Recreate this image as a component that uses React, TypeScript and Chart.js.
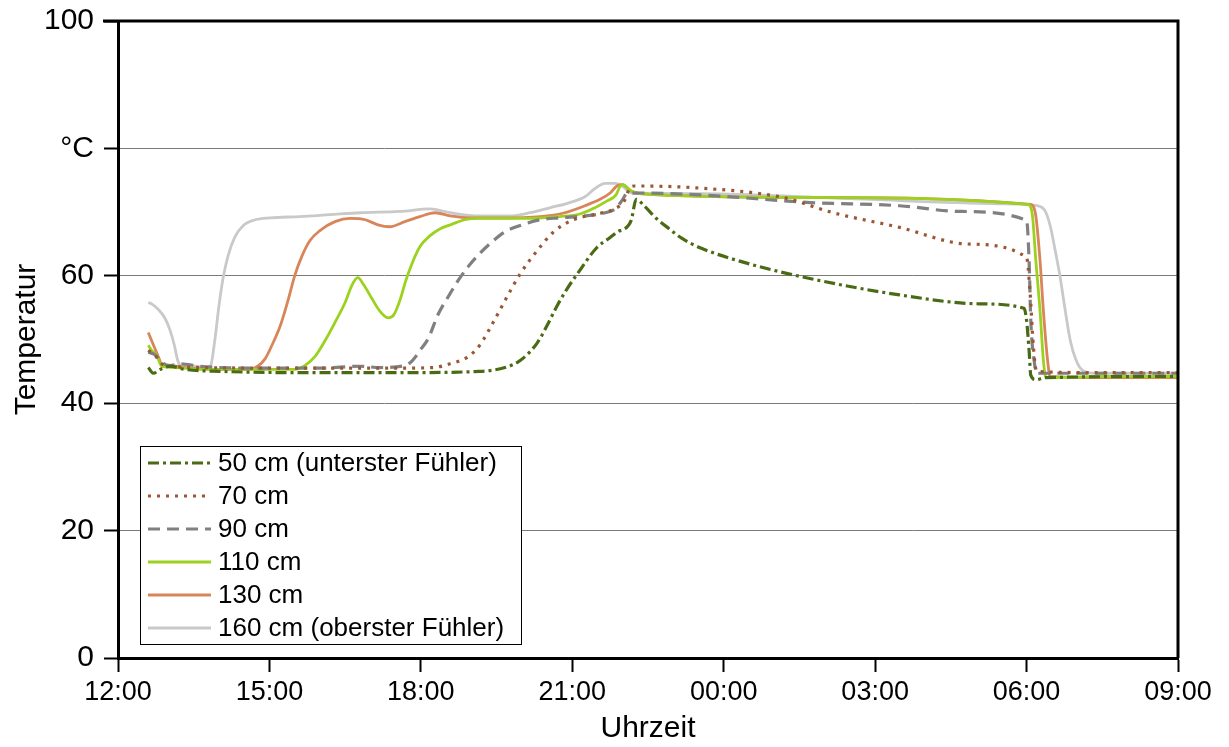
import React, { useEffect, useRef } from "react";
import { Chart, registerables } from "chart.js";

Chart.register(...registerables);

// ---------- data ----------
const xTickLabels = ["12:00", "15:00", "18:00", "21:00", "00:00", "03:00", "06:00", "09:00"];
const yTickValues = [0, 20, 40, 60, 80, 100];
const yTickLabels = ["0", "20", "40", "60", "°C", "100"];

const seriesLabels = [
  "50 cm (unterster Fühler)",
  "70 cm",
  "90 cm",
  "110 cm",
  "130 cm",
  "160 cm (oberster Fühler)",
];

const times50 = ["12:36","12:42","12:50","13:02","13:20","14:01","15:36","17:35","19:10","19:40","19:58","20:18","20:30","20:42","20:54","21:06","21:29","21:45","21:55","22:00","22:10","22:16","22:26","22:40","22:55","23:10","23:32","00:19","01:31","03:29","05:04","05:57","06:00","06:03","06:05","06:11","06:22","09:00"];
const temps50 = [45.6,44.7,45.3,45.8,45.3,45.0,44.8,44.8,45.0,45.6,46.7,49.4,52.2,55.3,58.0,60.3,64.4,66.0,67.0,67.2,68.7,72.0,70.9,69.0,67.4,65.9,64.4,62.3,59.9,57.0,55.6,54.9,53.0,48.3,44.4,43.7,44.0,44.2];

const times70 = ["12:36","12:44","12:52","13:04","13:37","15:36","17:35","18:15","18:35","18:55","19:10","19:26","19:42","19:58","20:18","20:37","21:01","21:29","21:50","22:02","22:08","22:14","23:28","01:10","02:10","03:29","04:49","06:00","06:04","06:08","06:12","07:27","09:00"];
const temps70 = [48.3,47.5,46.2,45.8,45.6,45.5,45.5,45.6,46.2,47.2,49.1,52.7,56.6,60.3,63.9,66.8,68.8,69.7,70.5,71.8,73.7,74.1,73.8,72.3,69.9,67.6,65.0,62.9,57.7,49.1,45.0,44.8,44.8];

const times90 = ["12:36","12:44","12:52","13:02","13:14","13:37","14:37","16:00","16:48","17:11","17:41","17:50","17:59","18:09","18:20","18:32","18:44","18:56","19:10","19:26","19:40","19:58","20:22","20:45","21:15","21:39","21:51","21:59","22:05","22:20","23:32","01:43","03:29","04:41","06:00","06:03","06:05","06:09","06:12","07:27","09:00"];
const temps90 = [48.0,47.6,46.4,45.9,46.2,45.8,45.5,45.5,45.8,45.6,45.9,46.7,48.3,50.2,53.8,56.6,59.2,61.4,63.5,65.5,66.9,67.9,68.8,69.1,69.4,69.9,70.5,71.8,72.9,73.0,72.7,71.5,71.0,70.1,68.7,62.4,53.0,46.7,44.7,44.7,44.7];

const times110 = ["12:36","12:40","12:46","12:52","13:08","13:37","14:37","15:30","15:42","15:54","16:06","16:18","16:30","16:38","16:45","16:52","17:02","17:11","17:21","17:28","17:35","17:42","17:50","17:59","18:11","18:23","18:35","18:52","19:10","19:58","20:45","21:09","21:27","21:42","21:52","21:57","22:00","22:09","22:20","01:31","06:02","06:07","06:11","06:16","06:20","06:23","07:27","09:00"];
const temps110 = [49.1,48.3,47.5,45.8,45.6,45.3,45.3,45.3,45.9,47.3,49.8,52.7,55.8,58.5,59.7,58.6,56.4,54.5,53.4,53.9,56.1,59.2,62.1,64.6,66.3,67.4,68.0,68.8,69.0,69.0,69.3,69.7,70.7,71.8,72.7,74.1,74.3,73.4,72.9,72.3,71.2,69.4,62.4,54.5,46.7,44.0,44.2,44.2];

const times130 = ["12:36","12:40","12:48","12:53","13:08","13:26","14:01","14:37","14:46","14:55","15:03","15:13","15:22","15:30","15:39","15:48","16:00","16:18","16:36","16:54","17:09","17:23","17:41","17:59","18:17","18:35","18:59","19:34","20:22","20:51","21:15","21:33","21:45","21:53","22:00","22:09","22:20","01:31","06:05","06:11","06:16","06:20","06:25","06:28","07:27","09:00"];
const temps130 = [51.1,49.8,47.3,45.8,45.8,45.5,45.3,45.3,45.8,47.0,49.1,52.2,56.1,60.0,63.2,65.5,67.1,68.5,69.0,68.8,68.0,67.7,68.5,69.3,69.9,69.4,69.1,69.1,69.3,69.9,71.0,72.0,73.0,74.1,74.3,73.4,72.9,72.3,71.2,69.4,62.4,54.5,46.7,44.2,44.0,44.0];

const times160 = ["12:36","12:40","12:48","12:56","13:02","13:07","13:11","13:16","13:32","13:43","13:50","13:55","14:00","14:05","14:11","14:19","14:29","14:43","15:01","15:36","16:12","16:48","17:35","18:11","18:35","19:10","19:46","20:10","20:34","20:57","21:15","21:27","21:39","21:51","21:59","22:11","23:32","02:30","05:28","06:13","06:22","06:28","06:34","06:40","06:46","06:52","06:59","07:07","07:21","08:03","09:00"];
const temps160 = [55.8,55.6,54.7,53.3,51.4,49.1,46.7,45.8,45.8,45.6,45.9,49.8,55.3,59.7,63.2,66.1,67.9,68.8,69.1,69.3,69.6,69.9,70.1,70.5,69.9,69.4,69.4,69.9,70.7,71.5,72.4,73.7,74.5,74.5,74.1,73.0,72.9,72.1,71.3,71.0,70.2,67.9,64.0,59.7,54.5,49.8,46.7,45.1,44.7,44.7,44.7];

// ---------- helpers ----------
const toHours = (s: string) => {
  const [h, m] = s.split(":").map(Number);
  let v = h + m / 60 - 12;
  if (v < 0) v += 24;
  return v;
};
const pts = (t: string[], v: number[]) => t.map((s, i) => ({ x: toHours(s), y: v[i] }));

const seriesTimes = [times50, times70, times90, times110, times130, times160];
const seriesTemps = [temps50, temps70, temps90, temps110, temps130, temps160];
const seriesColors = ["#4b6a14", "#9b5734", "#808080", "#9bd21e", "#d9855a", "#c9c9c9"];
const seriesDash: number[][] = [[11, 4, 3, 4], [3, 6], [12, 7], [], [], []];
const seriesWidth = [3.2, 3.2, 3.2, 2.8, 2.8, 2.8];

const FONT = "'Liberation Sans', Arial, sans-serif";

const framePlugin = {
  id: "frame",
  afterDraw(chart: any) {
    const { ctx, chartArea: a } = chart;
    ctx.save();
    ctx.strokeStyle = "#000";
    ctx.lineWidth = 3;
    ctx.beginPath();
    ctx.moveTo(a.left - 15, a.top);
    ctx.lineTo(a.right, a.top);
    ctx.lineTo(a.right, a.bottom);
    ctx.stroke();
    ctx.restore();
  },
};

const legendPlugin = {
  id: "boxLegend",
  afterDraw(chart: any) {
    const { ctx, chartArea: a } = chart;
    const x0 = a.left + 22;
    const y0 = a.top + 425;
    const w = 381;
    const h = 198;
    ctx.save();
    ctx.fillStyle = "#fff";
    ctx.fillRect(x0, y0, w, h);
    ctx.strokeStyle = "#000";
    ctx.lineWidth = 1;
    ctx.strokeRect(x0 + 0.5, y0 + 0.5, w, h);
    chart.data.datasets.forEach((ds: any, i: number) => {
      const cy = y0 + 17 + i * 33;
      ctx.strokeStyle = ds.borderColor;
      ctx.lineWidth = ds.borderWidth;
      ctx.setLineDash(ds.borderDash || []);
      ctx.beginPath();
      ctx.moveTo(x0 + 8, cy);
      ctx.lineTo(x0 + 71, cy);
      ctx.stroke();
      ctx.setLineDash([]);
      ctx.fillStyle = "#000";
      ctx.font = `26px ${FONT}`;
      ctx.textBaseline = "middle";
      ctx.textAlign = "left";
      ctx.fillText(ds.label, x0 + 78, cy + 1);
    });
    ctx.restore();
  },
};

export default function App() {
  const ref = useRef<HTMLCanvasElement | null>(null);
  useEffect(() => {
    if (!ref.current) return;
    const datasets = seriesLabels.map((label, i) => ({
      label,
      data: pts(seriesTimes[i], seriesTemps[i]),
      borderColor: seriesColors[i],
      backgroundColor: seriesColors[i],
      borderWidth: seriesWidth[i],
      borderDash: seriesDash[i],
      borderCapStyle: "butt" as const,
      pointRadius: 0,
      fill: false,
      cubicInterpolationMode: "monotone" as const,
    }));
    const chart = new Chart(ref.current, {
      type: "line",
      data: { datasets },
      options: {
        responsive: false,
        animation: false,
        layout: { padding: { top: 21, right: 51, left: 0, bottom: 0 } },
        plugins: { legend: { display: false }, tooltip: { enabled: false } },
        scales: {
          x: {
            type: "linear",
            min: 0,
            max: 21,
            afterFit: (s: any) => {
              s.height = 89;
              s.paddingLeft = 0;
              s.paddingRight = 0;
            },
            afterBuildTicks: (s: any) => {
              s.ticks = xTickLabels.map((_, i) => ({ value: i * 3 }));
            },
            ticks: {
              autoSkip: false,
              maxRotation: 0,
              padding: 4,
              color: "#000",
              font: { family: FONT, size: 27 },
              callback: (v: any) => xTickLabels[Math.round(Number(v) / 3)],
            },
            grid: {
              display: true,
              color: "rgba(0,0,0,0)",
              tickColor: "#000",
              tickLength: 14,
              tickWidth: 2,
            },
            border: { display: true, color: "#000", width: 3 },
            title: {
              display: true,
              text: "Uhrzeit",
              color: "#000",
              font: { family: FONT, size: 30 },
              padding: { top: 0, bottom: 0 },
            },
          },
          y: {
            type: "linear",
            min: 0,
            max: 100,
            afterFit: (s: any) => {
              s.width = 118;
              s.paddingTop = 0;
              s.paddingBottom = 0;
            },
            afterBuildTicks: (s: any) => {
              s.ticks = yTickValues.map((v) => ({ value: v }));
            },
            ticks: {
              padding: 10,
              color: "#000",
              font: { family: FONT, size: 30 },
              callback: (v: any) => yTickLabels[yTickValues.indexOf(Number(v))],
            },
            grid: {
              color: (c: any) => (c.tick && (c.tick.value === 0 || c.tick.value === 100) ? "rgba(0,0,0,0)" : "#7a7a7a"),
              lineWidth: 1,
              tickColor: "#000",
              tickLength: 14,
              tickWidth: 2,
            },
            border: { display: true, color: "#000", width: 3 },
            title: {
              display: true,
              text: "Temperatur",
              color: "#000",
              font: { family: FONT, size: 30 },
              padding: { top: 9, bottom: 0 },
            },
          },
        },
      },
      plugins: [framePlugin, legendPlugin],
    });
    return () => chart.destroy();
  }, []);
  return (
    <div style={{ position: "fixed", left: 0, top: 0, width: 1229, height: 747, background: "#fff" }}>
      <canvas ref={ref} width={1229} height={747} />
    </div>
  );
}
